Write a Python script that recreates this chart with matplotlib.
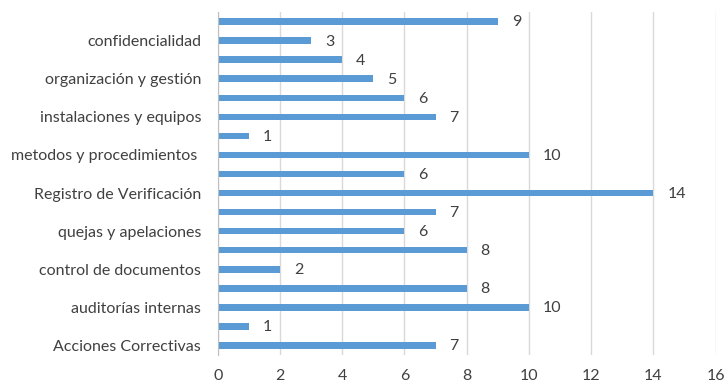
import matplotlib
matplotlib.use("Agg")
import matplotlib.pyplot as plt

# Data (bottom to top)
categories = [
    "Acciones Correctivas", "", "auditorías internas", "", "control de documentos", "",
    "quejas y apelaciones", "", "Registro de Verificación", "", "metodos y procedimientos ", "",
    "instalaciones y equipos", "", "organización y gestión", "", "confidencialidad", "",
]
values = [7, 1, 10, 8, 2, 8, 6, 7, 14, 6, 10, 1, 7, 6, 5, 4, 3, 9]
x_ticks = [0, 2, 4, 6, 8, 10, 12, 14, 16]

plt.rcParams['font.family'] = ['Lato', 'DejaVu Sans']

fig = plt.figure(figsize=(7.25, 3.84), dpi=100)
ax = fig.add_axes([0.3003, 0.0755, 0.6869, 0.8932])

pos = list(range(len(values)))
ax.barh(pos, values, height=0.34, color='#5B9BD5', zorder=3)
for p, v in zip(pos, values):
    ax.text(v + 0.45, p - 0.05, str(v), va='center', ha='left', fontsize=11.5, color='#404040')

ax.set_xlim(0, 16)
ax.set_ylim(-0.5, len(values) - 0.5)
ax.set_xticks(x_ticks)
ax.set_xticklabels([str(t) for t in x_ticks])
ax.set_yticks(pos)
ax.set_yticklabels(categories)
ax.tick_params(axis='both', length=0, labelsize=11.5, labelcolor='#404040')
ax.tick_params(axis='x', pad=10)
ax.tick_params(axis='y', pad=12)
ax.grid(axis='x', color='#D9D9D9', linewidth=1, zorder=0)
for s in ['top', 'right', 'bottom']:
    ax.spines[s].set_visible(False)
ax.spines['left'].set_color('#BFBFBF')
ax.spines['left'].set_zorder(4)

fig.savefig('out.png', dpi=100)
